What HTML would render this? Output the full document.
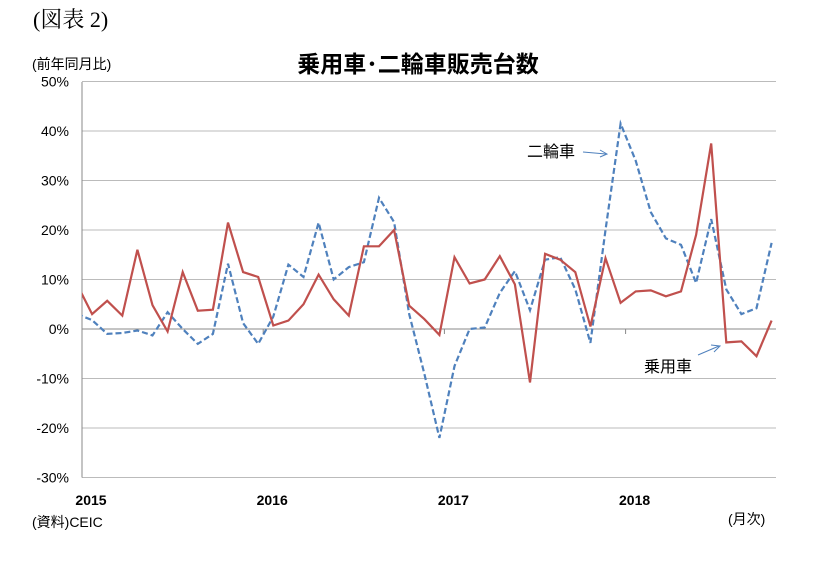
<!DOCTYPE html>
<html><head><meta charset="utf-8"><style>
body{margin:0;background:#fff;width:823px;height:560px;overflow:hidden;font-family:"Liberation Sans","Noto Sans CJK JP",sans-serif}
</style></head><body>
<svg id="chart" width="823" height="560" xmlns="http://www.w3.org/2000/svg">
<text x="33" y="27" font-size="22" font-family="Liberation Serif,Noto Serif CJK SC,serif">(図表 2)</text>
<text x="418" y="72" font-size="23" font-weight="bold" text-anchor="middle">乗用車･二輪車販売台数</text>
<text x="32" y="69" font-size="14">(前年同月比)</text>
<text x="32" y="527" font-size="14">(資料)CEIC</text>
<text x="728" y="524" font-size="14">(月次)</text>
<g id="grid"></g><g id="series"></g>
<text x="527" y="157" font-size="16">二輪車</text>
<line x1="583" y1="152" x2="606" y2="154" stroke="#4f81bd" stroke-width="1"/>
<path d="M600,150 L607,154 L600,157" fill="none" stroke="#4f81bd"/>
<text x="644" y="372" font-size="16">乗用車</text>
<line x1="698" y1="355" x2="719" y2="346" stroke="#4f81bd" stroke-width="1"/>
<path d="M711,345 L720,346 L714,352" fill="none" stroke="#4f81bd"/>
</svg>
<script>
const yTicks=[50,40,30,20,10,0,-10,-20,-30];
const yearLabels=["2015","2016","2017","2018"];
const carValues=[9,3,5.7,2.7,16,4.8,-0.5,11.5,3.7,3.9,21.5,11.5,10.5,0.7,1.7,5,11,6,2.7,16.7,16.7,20,4.7,2,-1.2,14.5,9.2,10,14.7,9,-10.8,15.2,14,11.5,0.5,14.3,5.3,7.6,7.8,6.6,7.6,19,37.5,-2.7,-2.5,-5.5,1.7];
const bikeValues=[3,1.8,-1,-0.8,-0.3,-1.3,3.4,0,-3,-1,13.2,1.2,-3,2.5,13,10.5,21.5,10,12.5,13.5,26.5,21.6,3,-9,-22,-7.5,0,0.3,7.3,11.7,3.8,14,14.5,8,-2.8,20,41.5,34,23.6,18.3,17,9.3,22.2,8,3,4.2,17.4];
const X0=77,DX=15.1,L=82,R=776,T=82,B=477.5;
function y(v){return 329-v*4.95;}
function x(i){return X0+i*DX;}
const ns="http://www.w3.org/2000/svg";
const g=document.getElementById('grid'),s=document.getElementById('series');
function mk(tag,attrs,parent){const e=document.createElementNS(ns,tag);for(const k in attrs)e.setAttribute(k,attrs[k]);parent.appendChild(e);return e;}
yTicks.forEach(v=>{
 const ln=mk('line',{x1:L,x2:R,y1:y(v),y2:y(v),stroke:v===0?'#888':'#bbb','stroke-width':1},g);
 
 
 const t=mk('text',{x:69,y:y(v)+5,'font-size':14,'text-anchor':'end'},g);
 t.textContent=v+'%';
 
 
});
const ax=mk('line',{x1:L,x2:L,y1:T,y2:B,stroke:'#888'},g);


yearLabels.forEach((lab,k)=>{
 const xi=x(k*12)+5;
 mk('line',{x1:xi,x2:xi,y1:329,y2:334,stroke:'#888'},g);
 const t=mk('text',{x:xi+9,y:505,'font-size':14,'font-weight':'bold','text-anchor':'middle'},g);
 t.textContent=lab;
 
 
});
mk('clipPath',{id:'cp'},document.getElementById('chart'));
mk('rect',{x:L,y:0,width:R-L,height:560},document.getElementById('cp'));
function pts(a){return a.map((v,i)=>x(i).toFixed(1)+','+y(v).toFixed(1)).join(' ');}
const b=mk('polyline',{points:pts(bikeValues),fill:'none',stroke:'#4f81bd','stroke-width':2.2,'stroke-dasharray':'6,3','clip-path':'url(#cp)'},s);


const c=mk('polyline',{points:pts(carValues),fill:'none',stroke:'#c0504d','stroke-width':2.2,'clip-path':'url(#cp)'},s);


</script>
</body></html>
